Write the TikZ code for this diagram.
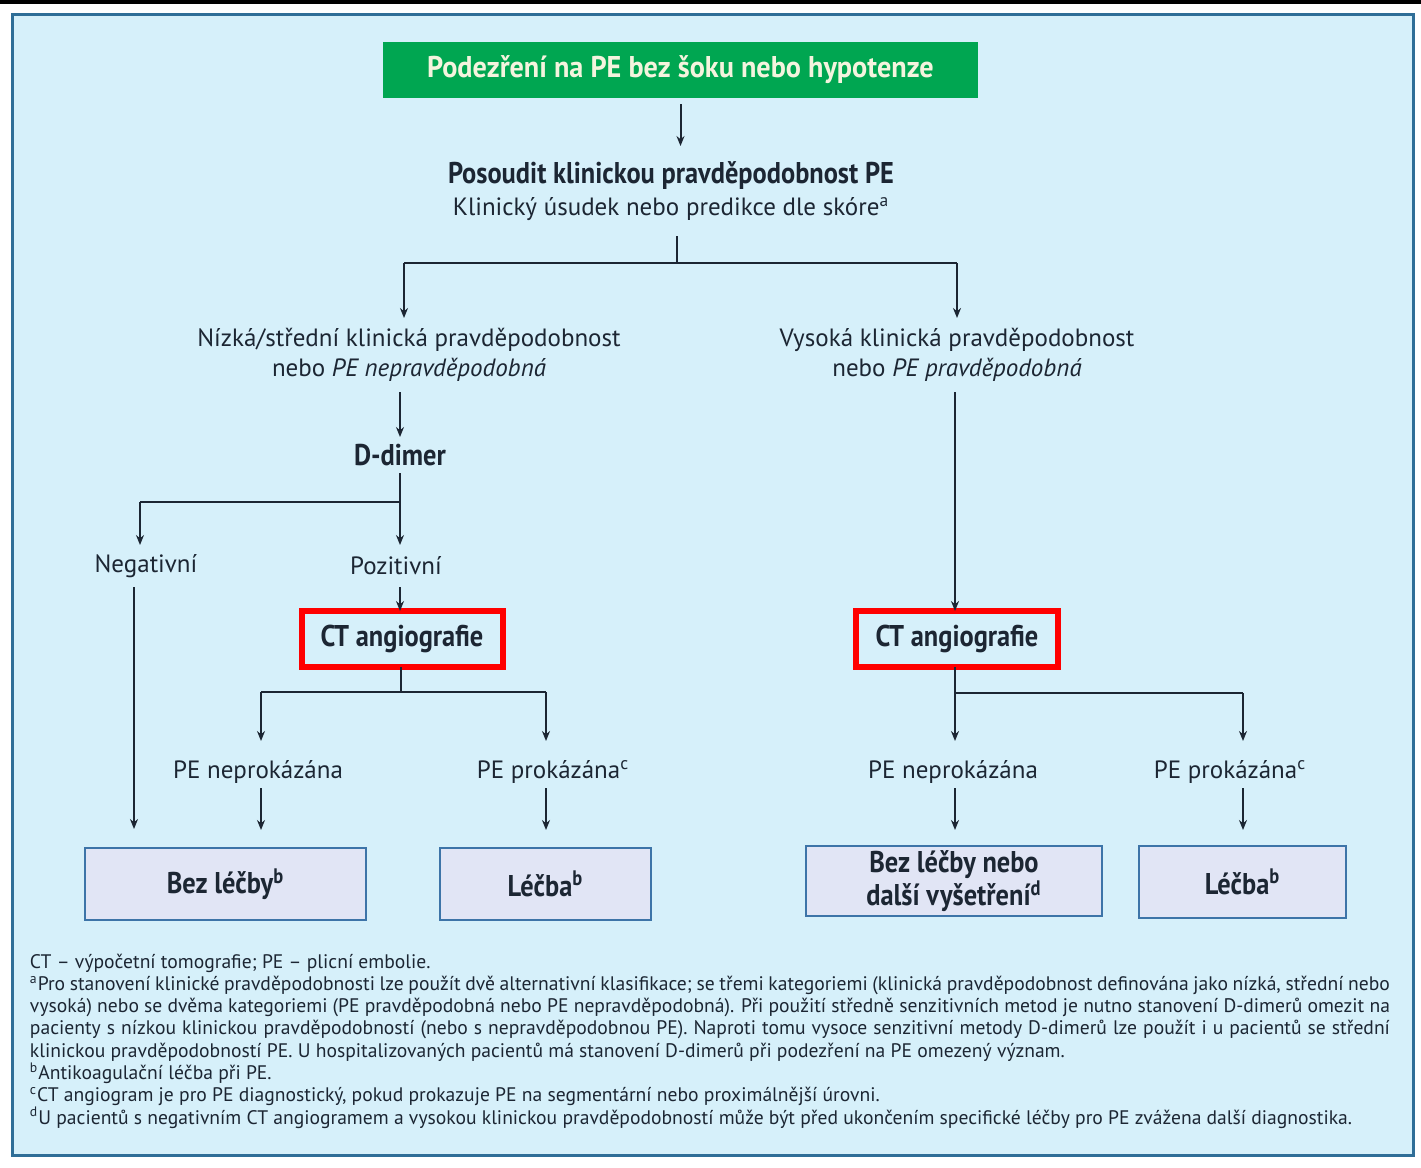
\documentclass[tikz,border=0pt]{standalone}
\usepackage{fontspec}
\setmainfont{PT Sans}
\newfontfamily\narrowhead{PT Sans}[FakeStretch=0.88]
\newfontfamily\starthead{PT Sans}[FakeStretch=0.94]
\usetikzlibrary{arrows.meta}

\definecolor{pagebg}{HTML}{D6F0FA}
\definecolor{framecol}{HTML}{2F6E97}
\definecolor{startgreen}{HTML}{00A651}
\definecolor{starttext}{HTML}{F4F4DE}
\definecolor{inkcol}{HTML}{1C2633}
\definecolor{outfill}{HTML}{E1E5F5}
\definecolor{outdraw}{HTML}{3D74A8}
\definecolor{ctred}{HTML}{FF0000}

\tikzset{
  every node/.style={text=inkcol, inner sep=0pt, outer sep=0pt},
  conn/.style={draw=inkcol, line width=1pt},
  arr/.style={conn, -{Stealth[length=5pt, width=4pt]}},
  txtlabel/.style={font=\fontsize{12.5}{15}\selectfont, align=center},
  headlabel/.style={font=\narrowhead\bfseries\fontsize{15}{17}\selectfont, align=center},
  startbox/.style={fill=startgreen, text=starttext, font=\starthead\bfseries\fontsize{15}{17}\selectfont,
    minimum width=297.5pt, minimum height=28pt},
  ctbox/.style={draw=ctred, line width=3pt, font=\narrowhead\bfseries\fontsize{15}{17}\selectfont,
    minimum height=28pt},
  outbox/.style={draw=outdraw, line width=1pt, fill=outfill, align=center,
    font=\narrowhead\bfseries\fontsize{15}{15.5}\selectfont, minimum height=36pt},
  outcome/.style={txtlabel, text height=18.5pt, text depth=5pt},
  note/.style={anchor=base west, font=\fontsize{9.8}{11}\selectfont},
}

\begin{document}
\begin{tikzpicture}[x=0.5pt, y=-0.5pt]
\useasboundingbox (0,0) rectangle (1421,1168);
\fill[white] (0,0) rectangle (1421,1168);
\fill[black] (0,0) rectangle (1421,4);
\draw[framecol, line width=1.5pt, fill=pagebg] (12,14) rectangle (1413,1155);

% top of the flow
\node[startbox] (start) at (680.5,70) {Podezření na PE bez šoku nebo hypotenze};
\node[headlabel, minimum height=45pt] (assess) at (671,191)
  {Posoudit klinickou pravděpodobnost PE\\[-1pt]
   {\normalfont\fontsize{12.5}{15}\selectfont Klinický úsudek nebo predikce dle skóre\textsuperscript{a}}};
\draw[arr] (start.south) ++(0,6) -- (start.south |- assess.north);

% first split
\coordinate (jtop) at (677,263);
\coordinate (jl) at (404,263);
\coordinate (jr) at (957,263);
\node[txtlabel, minimum height=37pt] (low) at (409,355)
  {Nízká/střední klinická pravděpodobnost\\nebo \textit{PE nepravděpodobná}};
\node[txtlabel, minimum height=37pt] (high) at (957,355)
  {Vysoká klinická pravděpodobnost\\nebo \textit{PE pravděpodobná}};
\draw[conn] (assess.south -| jtop) -- (jtop);
\draw[conn] (jl) -- (jr);
\draw[arr] (jl) -- (jl |- low.north);
\draw[arr] (jr) -- (jr |- high.north);

% left branch: D-dimer
\node[headlabel, minimum height=18pt] (ddimer) at (400,455) {D-dimer};
\draw[arr] (low.south -| ddimer.north) -- (ddimer.north);
\coordinate (jd) at (400,502);
\coordinate (jdl) at (140,502);
\node[txtlabel, minimum height=21pt] (neg) at (146,566) {Negativní};
\node[txtlabel, minimum height=21pt] (pos) at (396,566) {Pozitivní};
\draw[conn] (ddimer.south) -- (jd);
\draw[conn] (jd) -- (jdl);
\draw[arr] (jdl) -- (jdl |- neg.north);
\draw[arr] (jd) -- (jd |- pos.north);

% left CT angiography
\node[ctbox, minimum width=100.5pt] (ctl) at (402,639) {CT angiografie};
\draw[arr] (pos.south -| jd) -- (jd |- ctl.north);
\coordinate (jc) at (401,692);
\coordinate (jcl) at (261,692);
\coordinate (jcr) at (546,692);
\node[outcome] (nepl) at (258,764.5) {PE neprokázána};
\node[outcome] (prol) at (553,764.5) {PE prokázána\textsuperscript{c}};
\draw[conn] (ctl.south -| jc) -- (jc);
\draw[conn] (jcl) -- (jcr);
\draw[arr] (jcl) -- (jcl |- nepl.north);
\draw[arr] (jcr) -- (jcr |- prol.north);

% left outcomes
\node[outbox, minimum width=140.5pt] (none1) at (225.5,884) {Bez léčby\textsuperscript{b}};
\node[outbox, minimum width=105.5pt] (treat1) at (545.5,884) {Léčba\textsuperscript{b}};
\coordinate (negx) at (134,0);
\draw[arr] (neg.south -| negx) -- ++(0,242);
\draw[arr] (nepl.south -| jcl) -- ++(0,42);
\draw[arr] (prol.south -| jcr) -- ++(0,42);

% right branch
\node[ctbox, minimum width=101pt] (ctr) at (957,639) {CT angiografie};
\coordinate (rx) at (955,0);
\draw[arr] (high.south -| rx) -- (rx |- ctr.north);
\coordinate (jrc) at (955,693);
\coordinate (jrr) at (1243,693);
\node[outcome] (nepr) at (953,764.5) {PE neprokázána};
\node[outcome] (pror) at (1230,764.5) {PE prokázána\textsuperscript{c}};
\draw[conn] (ctr.south -| jrc) -- (jrc);
\draw[conn] (jrc) -- (jrr);
\draw[arr] (jrc) -- (jrc |- nepr.north);
\draw[arr] (jrr) -- (jrr |- pror.north);

\node[outbox, minimum width=148pt, minimum height=35pt] (none2) at (954,881)
  {Bez léčby nebo\\další vyšetření\textsuperscript{d}};
\node[outbox, minimum width=103.5pt] (treat2) at (1242.5,882) {Léčba\textsuperscript{b}};
\draw[arr] (nepr.south -| jrc) -- ++(0,42);
\draw[arr] (pror.south -| jrr) -- ++(0,42);

% footnotes
\node[note] (n1) at (30,968) {CT – výpočetní tomografie; PE – plicní embolie.};
\node[note] (n2) at (30,990.3) {\makebox[680pt][s]{\textsuperscript{a}Pro stanovení klinické pravděpodobnosti lze použít dvě alternativní klasifikace; se třemi kategoriemi (klinická pravděpodobnost definována jako nízká, střední nebo}};
\node[note] (n3) at (30,1012.6) {\makebox[680pt][s]{vysoká) nebo se dvěma kategoriemi (PE pravděpodobná nebo PE nepravděpodobná). Při použití středně senzitivních metod je nutno stanovení D-dimerů omezit na}};
\node[note] (n4) at (30,1034.9) {\makebox[680pt][s]{pacienty s nízkou klinickou pravděpodobností (nebo s nepravděpodobnou PE). Naproti tomu vysoce senzitivní metody D-dimerů lze použít i u pacientů se střední}};
\node[note] (n5) at (30,1057.2) {klinickou pravděpodobností PE. U hospitalizovaných pacientů má stanovení D-dimerů při podezření na PE omezený význam.};
\node[note] (n6) at (30,1079.5) {\textsuperscript{b}Antikoagulační léčba při PE.};
\node[note] (n7) at (30,1101.8) {\textsuperscript{c}CT angiogram je pro PE diagnostický, pokud prokazuje PE na segmentární nebo proximálnější úrovni.};
\node[note] (n8) at (30,1124.1) {\textsuperscript{d}U pacientů s negativním CT angiogramem a vysokou klinickou pravděpodobností může být před ukončením specifické léčby pro PE zvážena další diagnostika.};
\end{tikzpicture}
\end{document}
